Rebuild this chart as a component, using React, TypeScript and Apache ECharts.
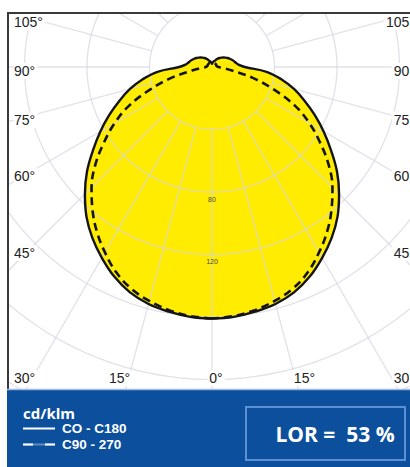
import React, { useEffect, useRef } from "react";
import * as echarts from "echarts";

// Luminous intensity (cd/klm) against gamma angle from nadir (0..180 in 5° steps)
const gammaAngles = [
  0, 5, 10, 15, 20, 25, 30, 35, 40, 45, 50, 55, 60, 65, 70, 75, 80, 85, 90,
  95, 100, 105, 110, 115, 120, 125, 130, 135, 140, 145, 150, 155, 160, 165, 170, 175, 180,
];
const c0c180 = [
  161, 160.5, 159, 157, 153.5, 148, 141, 133.5, 125, 115, 104.5, 93, 82.5, 72.5, 63, 54.3, 45, 35, 21,
  17, 15.5, 14.5, 13.5, 12.5, 11.5, 10.5, 9.5, 8.5, 7.5, 6.5, 5.5, 4.5, 4, 3.5, 3, 2.5, 2,
];
const c90c270 = [
  161, 160, 158, 155, 151, 145, 137, 128.5, 119, 109, 97.5, 84.5, 72, 58.5, 42, 27, 13, 7, 4,
  3.5, 3, 3, 3, 3, 3, 3, 3, 3, 3, 3, 3, 3, 3, 3, 3, 3, 3,
];

// Grid / tick definitions
const ringValues = [40, 80, 120, 160, 200, 240];
const ringLabelValues = [80, 120];
const spokeAngles = [0, 15, 30, 45, 60, 75, 90, 105, 120, 135, 150, 165, 180, 195, 210, 225, 240, 255, 270, 285, 300, 315, 330, 345];
const sideTickLabels = [105, 90, 75, 60, 45, 30];
const bottomTickLabels = [15, 0, 15];
const unitLabel = "cd/klm";
const legendNames = ["CO - C180", "C90 - 270"];
const lorLabel = "LOR =  53 %";

const CX = 212;
const CY = 67;
const PX_PER_UNIT = 1.5625;
const R_MAX = 300;

function closedCurve(values: number[]) {
  const left = gammaAngles.map((a, i) => [values[i], a]);
  const right: number[][] = [];
  for (let i = gammaAngles.length - 2; i >= 0; i--) {
    right.push([values[i], 360 - gammaAngles[i]]);
  }
  return [...left, ...right];
}

export default function App() {
  const ref = useRef<HTMLDivElement>(null);

  useEffect(() => {
    if (!ref.current) return;
    document.body.style.margin = "0";
    const chart = echarts.init(ref.current, undefined, { renderer: "svg" });

    const gridColor = "rgba(214,214,224,0.72)";
    const ringSeries = ringValues.map((r) => ({
      type: "line",
      coordinateSystem: "polar",
      silent: true,
      symbol: "none",
      z: 2,
      data: Array.from({ length: 181 }, (_, i) => [r, i * 2]),
      lineStyle: { color: gridColor, width: 1.3 },
    }));
    const spokeSeries = spokeAngles.map((a) => ({
      type: "line",
      coordinateSystem: "polar",
      silent: true,
      symbol: "none",
      z: 2,
      data: [
        [40, a],
        [R_MAX, a],
      ],
      lineStyle: { color: gridColor, width: 1.3 },
    }));

    const option: any = {
      animation: false,
      backgroundColor: "#ffffff",
      polar: { center: [CX, CY], radius: R_MAX * PX_PER_UNIT },
      angleAxis: {
        type: "value",
        min: 0,
        max: 360,
        interval: 15,
        startAngle: 270,
        clockwise: true,
        axisLine: { show: false },
        axisTick: { show: false },
        axisLabel: { show: false },
        splitLine: { show: false },
      },
      radiusAxis: {
        type: "value",
        min: 0,
        max: R_MAX,
        interval: 20,
        axisLine: { show: false },
        axisTick: { show: false },
        axisLabel: { show: false },
        splitLine: { show: false },
      },
      series: [
        {
          type: "line",
          coordinateSystem: "polar",
          silent: true,
          symbol: "none",
          smooth: 0.4,
          z: 1,
          data: closedCurve(c0c180),
          lineStyle: { width: 0, opacity: 0 },
          areaStyle: { color: "#ffec00", opacity: 1 },
        },
        ...ringSeries,
        ...spokeSeries,
        {
          type: "line",
          coordinateSystem: "polar",
          silent: true,
          symbol: "none",
          smooth: 0.4,
          z: 4,
          data: closedCurve(c90c270),
          lineStyle: { color: "#141414", width: 2.6, type: [8, 5] },
        },
        {
          type: "line",
          coordinateSystem: "polar",
          silent: true,
          symbol: "none",
          smooth: 0.4,
          z: 5,
          data: closedCurve(c0c180),
          lineStyle: { color: "#141414", width: 2.4 },
        },
      ],
    };
    chart.setOption(option);

    const angleFont = { fontSize: 14, fontFamily: "Liberation Sans", fill: "#222" };
    const graphics: any[] = [];
    // covers outside frame
    graphics.push({ type: "rect", z: 100, shape: { x: 0, y: 0, width: 410, height: 12.5 }, style: { fill: "#fff" } });
    graphics.push({ type: "rect", z: 100, shape: { x: 0, y: 0, width: 7, height: 467 }, style: { fill: "#fff" } });
    graphics.push({ type: "line", z: 101, shape: { x1: 7, y1: 13, x2: 410, y2: 13 }, style: { stroke: "#3a3a3a", lineWidth: 2 } });
    graphics.push({ type: "line", z: 101, shape: { x1: 8, y1: 12, x2: 8, y2: 390 }, style: { stroke: "#3a3a3a", lineWidth: 2 } });

    // angle labels at left and right
    sideTickLabels.forEach((deg) => {
      const t = (deg * Math.PI) / 180;
      let y = CY + (182 * Math.cos(t)) / Math.sin(t) + 4;
      if (y > 378) y = 378;
      graphics.push({
        type: "text", z: 102, x: 14, y,
        style: { text: `${deg}°`, ...angleFont, align: "left", verticalAlign: "middle", backgroundColor: "#fff", padding: [1, 2, 1, 0] },
      });
      graphics.push({
        type: "text", z: 102, x: 415, y,
        style: { text: `${deg}°`, ...angleFont, align: "right", verticalAlign: "middle", backgroundColor: "#fff", padding: [1, 0, 1, 2] },
      });
    });
    bottomTickLabels.forEach((deg, i) => {
      const side = i === 0 ? -1 : i === bottomTickLabels.length - 1 ? 1 : 0;
      const t = (deg * Math.PI) / 180;
      const x = CX + side * 345 * Math.tan(t) + (deg === 0 ? 4 : 0);
      graphics.push({
        type: "text", z: 102, x, y: 378,
        style: { text: `${deg}°`, ...angleFont, align: "center", verticalAlign: "middle", backgroundColor: "#fff", padding: [1, 2] },
      });
    });

    // ring value labels along nadir axis
    ringLabelValues.forEach((v) => {
      const p = chart.convertToPixel({ seriesIndex: 0 } as any, [v, 0]) as any;
      const px = Array.isArray(p) ? p[0] : CX;
      const py = Array.isArray(p) ? p[1] : CY + v * PX_PER_UNIT;
      graphics.push({
        type: "text", z: 60, x: px, y: py + 7,
        style: { text: String(v), fontSize: 7, fontFamily: "Liberation Sans", fill: "#4a4630", align: "center", verticalAlign: "middle" },
      });
    });

    // bottom panel
    graphics.push({ type: "rect", z: 110, shape: { x: 7, y: 389, width: 403, height: 78 }, style: { fill: "#0c4f9c" } });
    graphics.push({ type: "line", z: 111, shape: { x1: 7, y1: 389.5, x2: 410, y2: 389.5 }, style: { stroke: "#9cb9df", lineWidth: 1.5 } });
    graphics.push({
      type: "text", z: 112, x: 23, y: 413,
      style: { text: unitLabel, fontSize: 15, fontWeight: "bold", fontFamily: "Open Sans", fill: "#fff", align: "left", verticalAlign: "middle", lineHeight: 16 },
    });
    graphics.push({ type: "line", z: 112, shape: { x1: 23, y1: 428.5, x2: 55, y2: 428.5 }, style: { stroke: "#fff", lineWidth: 2 } });
    graphics.push({ type: "line", z: 112, shape: { x1: 23, y1: 444.5, x2: 55, y2: 444.5 }, style: { stroke: "rgba(255,255,255,0.35)", lineWidth: 2 } });
    graphics.push({ type: "line", z: 113, shape: { x1: 23, y1: 444.5, x2: 55, y2: 444.5 }, style: { stroke: "#fff", lineWidth: 2, lineDash: [10, 12] } });
    legendNames.forEach((name, i) => {
      graphics.push({
        type: "text", z: 112, x: 62, y: 428.5 + i * 16,
        style: { text: name, fontSize: 13.5, fontWeight: "bold", fontFamily: "Liberation Sans", fill: "#fff", align: "left", verticalAlign: "middle", lineHeight: 14 },
      });
    });
    graphics.push({ type: "rect", z: 112, shape: { x: 246, y: 407, width: 159, height: 53 }, style: { fill: "none", stroke: "#5c8fd4", lineWidth: 2 } });
    graphics.push({
      type: "text", z: 113, x: 335, y: 434,
      style: { text: lorLabel, fontSize: 21, fontWeight: "bold", fontFamily: "Open Sans", fill: "#fff", align: "center", verticalAlign: "middle" },
    });

    chart.setOption({ graphic: { elements: graphics } });

    return () => {
      chart.dispose();
    };
  }, []);

  return (
    <div
      ref={ref}
      style={{ position: "absolute", left: 0, top: 0, width: 410, height: 467, background: "#fff" }}
    />
  );
}
